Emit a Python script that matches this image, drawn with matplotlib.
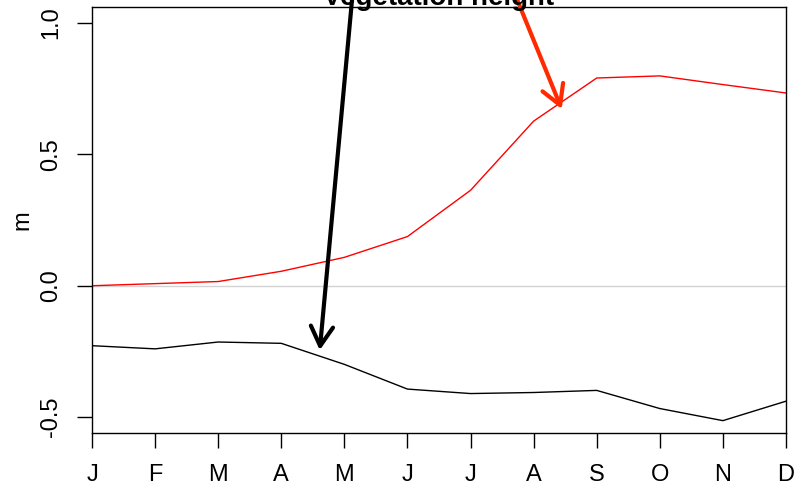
import matplotlib
matplotlib.use("Agg")
import matplotlib.pyplot as plt
from matplotlib.patches import FancyArrowPatch

plt.rcParams['font.family'] = ['Liberation Sans', 'DejaVu Sans']

# Monthly values (m)
months = ["J", "F", "M", "A", "M", "J", "J", "A", "S", "O", "N", "D"]
month_idx = list(range(1, 13))
veg_height = [0.0, 0.008, 0.016, 0.055, 0.108, 0.187, 0.363, 0.626, 0.790, 0.798, 0.765, 0.733]
other_series = [-0.228, -0.240, -0.214, -0.219, -0.299, -0.393, -0.410, -0.406, -0.398, -0.467, -0.513, -0.439]
y_ticks = [-0.5, 0.0, 0.5, 1.0]
y_tick_labels = ["-0.5", "0.0", "0.5", "1.0"]

# Annotation arrows: (start, end) in data units
black_arrow = ((5.18, 1.24), (4.61, -0.245))
red_arrow = ((7.48, 1.24), (8.445, 0.672))

W, H = 805, 488
fig = plt.figure(figsize=(W / 100, H / 100), dpi=100)
ax = fig.add_axes([92 / W, 1 - 433 / H, (786 - 92) / W, (433 - 7) / H])

ax.axhline(0, color="#d3d3d3", lw=1.0, zorder=1)
ax.plot(month_idx, veg_height, color="#ff0000", lw=1.0, zorder=2)
ax.plot(month_idx, other_series, color="black", lw=1.0, zorder=2)

ax.set_xlim(1, 12)
ax.set_ylim(-0.56, 1.06)

ax.set_xticks(month_idx)
ax.set_xticklabels(months)
ax.set_yticks(y_ticks)
ax.set_yticklabels(y_tick_labels, rotation=90, va="center")
ax.tick_params(axis="both", length=10.5, width=1.0, labelsize=17, color="black")
ax.tick_params(axis="x", pad=12)
ax.tick_params(axis="y", pad=11)
for s in ax.spines.values():
    s.set_linewidth(1.0)
    s.set_color("black")

ax.set_ylabel("m", fontsize=17, va="center")
ax.yaxis.set_label_coords((22 - 92) / (786 - 92), 0.5)

fig.text((92 + 786) / 2 / W, 1 - 5 / H, "Vegetation height", ha="center", va="baseline",
         fontsize=20, fontweight="bold")

for (start, end), col in ((black_arrow, "black"), (red_arrow, "#ff2a00")):
    arr = FancyArrowPatch(start, end, transform=ax.transData,
                          arrowstyle="->,head_length=14,head_width=8",
                          mutation_scale=1, lw=3, color=col, clip_on=False,
                          shrinkA=0, shrinkB=0, zorder=3, capstyle="round",
                          joinstyle="round")
    ax.add_patch(arr)

fig.savefig("out.png", dpi=100)
